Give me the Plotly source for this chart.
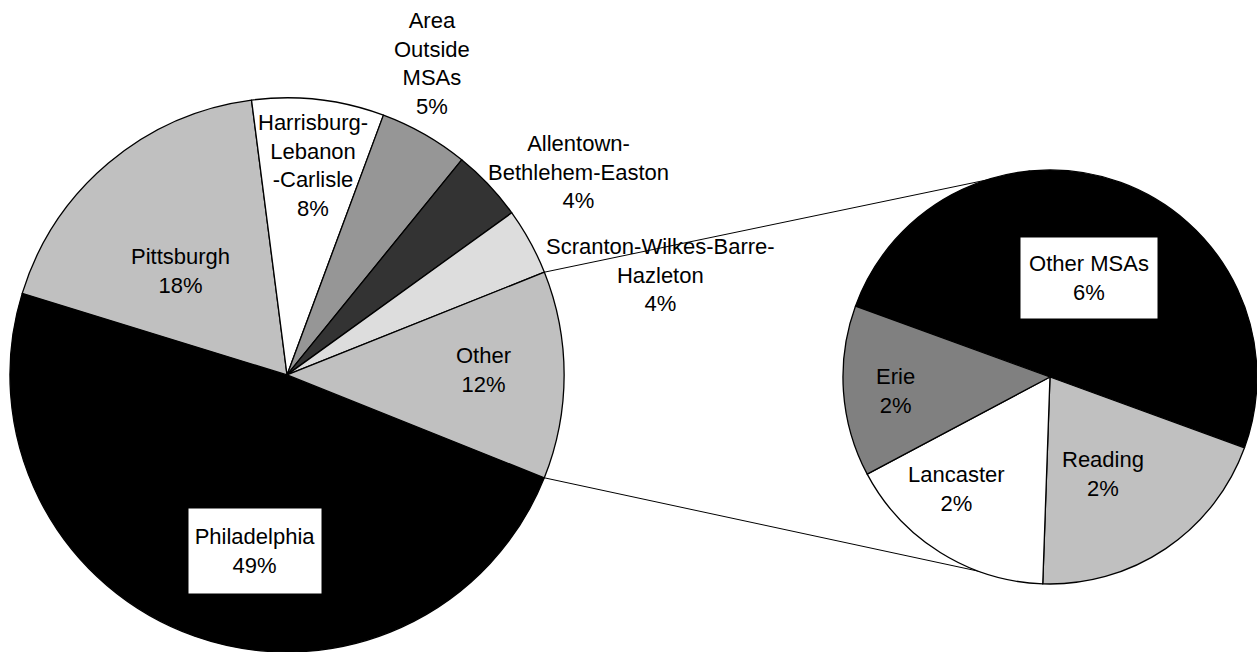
import math
import plotly.graph_objects as go

# ---------------- data ----------------
main_labels = ["Philadelphia", "Pittsburgh", "Harrisburg-Lebanon-Carlisle",
               "Area Outside MSAs", "Allentown-Bethlehem-Easton",
               "Scranton-Wilkes-Barre-Hazleton", "Other"]
main_display = ["Philadelphia", "Pittsburgh", "Harrisburg-<br>Lebanon<br>-Carlisle",
                "Area<br>Outside<br>MSAs", "Allentown-<br>Bethlehem-Easton",
                "Scranton-Wilkes-Barre-<br>Hazleton", "Other"]
main_values = [48.7, 18.2, 7.7, 5.2, 4.2, 3.9, 12.1]

sub_labels = ["Other MSAs", "Reading", "Lancaster", "Erie"]
sub_values = [6.0, 2.4, 2.0, 1.6]

# ---------------- styles ----------------
main_colors = ["#000000", "#C0C0C0", "#FFFFFF", "#969696", "#333333", "#DDDDDD", "#C0C0C0"]
sub_colors = ["#000000", "#C0C0C0", "#FFFFFF", "#808080"]

W, H = 1257, 652
FONT = "Liberation Sans"
FS = 22

main_dom_x = [0.0072, 0.4495]
main_dom_y = [0.0, 0.85]
sub_dom_x = [0.6706, 1.0]
sub_dom_y = [0.1043, 0.7393]
main_rot = 111.8
sub_rot = -70

# label centres in pixels (x, y from top)
main_label_pos = [(255, 551), (180, 271), (313, 166), (432, 64), (578, 172), (660, 275), (483, 370)]
sub_label_pos = [(1089, 278), (1103, 474), (956, 489), (895, 391)]
main_boxed = [True, False, False, False, False, False, False]
sub_boxed = [True, False, False, False]

fig = go.Figure()
fig.add_trace(go.Pie(
    labels=main_labels, values=main_values, sort=False, direction="clockwise",
    rotation=main_rot, marker=dict(colors=main_colors, line=dict(color="black", width=1.3)),
    textinfo="none", hoverinfo="label+value", domain=dict(x=main_dom_x, y=main_dom_y),
    showlegend=False,
))
fig.add_trace(go.Pie(
    labels=sub_labels, values=sub_values, sort=False, direction="clockwise",
    rotation=sub_rot, marker=dict(colors=sub_colors, line=dict(color="black", width=1.3)),
    textinfo="none", hoverinfo="label+value", domain=dict(x=sub_dom_x, y=sub_dom_y),
    showlegend=False,
))


def px2paper(x, y):
    return x / W, 1 - y / H


annotations = []
for lab, val, (x, y), boxed in list(zip(main_display, main_values, main_label_pos, main_boxed)) + \
        list(zip(sub_labels, sub_values, sub_label_pos, sub_boxed)):
    px, py = px2paper(x, y)
    a = dict(x=px, y=py, xref="paper", yref="paper", xanchor="center", yanchor="middle",
             text=f"{lab}<br>{val:.0f}%", showarrow=False,
             font=dict(family=FONT, size=FS, color="black"), align="center")
    if boxed:
        a.update(bgcolor="white", width=130 if lab != "Other MSAs" else 134,
                 height=82 if lab != "Other MSAs" else 78)
    annotations.append(a)

# connector lines from the "Other" slice to the secondary pie
def centre_radius(dx, dy):
    w = (dx[1] - dx[0]) * W
    h = (dy[1] - dy[0]) * H
    cx = (dx[0] + dx[1]) / 2 * W
    cy = H - (dy[0] + dy[1]) / 2 * H
    return cx, cy, min(w, h) / 2

c1x, c1y, r1 = centre_radius(main_dom_x, main_dom_y)
c2x, c2y, r2 = centre_radius(sub_dom_x, sub_dom_y)
total = sum(main_values)
start_frac = sum(main_values[:-1]) / total
clock_start = main_rot + start_frac * 360
clock_end = main_rot + 360
shapes = []
for clock, ang2 in ((clock_start, 95.5), (clock_end, -94)):
    m = math.radians(90 - clock)
    x0, y0 = c1x + r1 * math.cos(m), c1y - r1 * math.sin(m)
    a2 = math.radians(ang2)
    x1, y1 = c2x + r2 * math.cos(a2), c2y - r2 * math.sin(a2)
    p0 = px2paper(x0, y0)
    p1 = px2paper(x1, y1)
    shapes.append(dict(type="line", xref="paper", yref="paper", x0=p0[0], y0=p0[1],
                       x1=p1[0], y1=p1[1], line=dict(color="black", width=1), layer="below"))

fig.update_layout(width=W, height=H, margin=dict(l=0, r=0, t=0, b=0),
                  paper_bgcolor="white", plot_bgcolor="white",
                  annotations=annotations, shapes=shapes, showlegend=False)
fig.write_html("out.html")
